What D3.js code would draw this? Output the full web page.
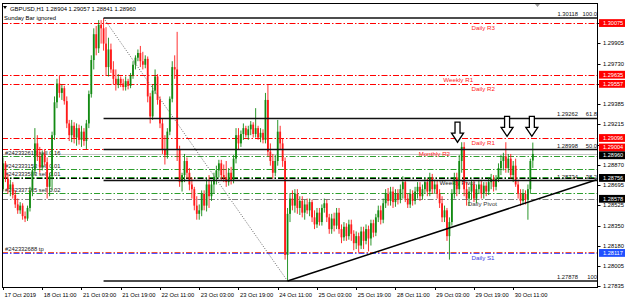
<!DOCTYPE html>
<html>
<head>
<meta charset="utf-8">
<script src="https://cdn.jsdelivr.net/npm/d3@7"></script>
<style>
  body { margin: 0; background: #fff; }
  svg { display: block; font-family: "Liberation Sans", Arial, sans-serif; }
</style>
</head>
<body>
<svg id="chart" width="625" height="304"></svg>
<script>
// GBPUSD H1 - pivots, orders, fibo

const headerText = 'GBPUSD,H1  1.28904 1.29057 1.28841 1.28960';
const subText = 'Sunday Bar ignored';

const timeLabels = [
  '17 Oct 2019', '18 Oct 11:00', '21 Oct 03:00', '21 Oct 19:00', '22 Oct 11:00',
  '23 Oct 03:00', '23 Oct 19:00', '24 Oct 11:00', '25 Oct 03:00', '25 Oct 19:00',
  '28 Oct 11:00', '29 Oct 03:00', '29 Oct 19:00', '30 Oct 11:00'
];
const barsPerLabel = 16;

const priceTicks = [
  1.27835, 1.28005, 1.28180, 1.28350, 1.28525, 1.28695, 1.28870,
  1.29040, 1.29215, 1.29385, 1.29560, 1.29730, 1.29905, 1.30075
];

// [open, high, low, close]
const bars = [
  [1.2866,1.2893,1.2864,1.2888],[1.2888,1.2890,1.2872,1.2875],[1.2875,1.2879,1.2862,1.2866],[1.2866,1.2874,1.2860,1.2870],
  [1.2870,1.2872,1.2858,1.2861],[1.2861,1.2865,1.2850,1.2853],[1.2853,1.2858,1.2845,1.2848],[1.2848,1.2855,1.2845,1.2852],
  [1.2852,1.2854,1.2840,1.2843],[1.2843,1.2847,1.2838,1.2841],[1.2841,1.2852,1.2839,1.2850],[1.2850,1.2868,1.2847,1.2865],
  [1.2865,1.2885,1.2860,1.2882],[1.2882,1.2918,1.2878,1.2905],[1.2905,1.2912,1.2890,1.2894],[1.2894,1.2902,1.2880,1.2885],
  [1.2885,1.2899,1.2882,1.2896],[1.2896,1.2900,1.2886,1.2889],[1.2889,1.2893,1.2858,1.2868],[1.2868,1.2880,1.2860,1.2877],
  [1.2877,1.2915,1.2865,1.2912],[1.2912,1.2945,1.2908,1.2940],[1.2940,1.2960,1.2935,1.2956],[1.2956,1.2963,1.2944,1.2948],
  [1.2948,1.2955,1.2942,1.2952],[1.2952,1.2954,1.2938,1.2941],[1.2941,1.2945,1.2918,1.2922],[1.2922,1.2925,1.2907,1.2912],
  [1.2912,1.2925,1.2906,1.2920],[1.2920,1.2923,1.2905,1.2910],[1.2910,1.2922,1.2903,1.2918],[1.2918,1.2921,1.2904,1.2908],
  [1.2908,1.2920,1.2902,1.2915],[1.2915,1.2918,1.2903,1.2907],[1.2907,1.2925,1.2900,1.2922],[1.2922,1.2950,1.2918,1.2947],
  [1.2947,1.2980,1.2944,1.2976],[1.2976,1.3003,1.2968,1.2998],[1.2998,1.3005,1.2980,1.2986],[1.2986,1.3010,1.2982,1.3006],
  [1.3006,1.3010,1.2990,1.3003],[1.3003,1.30118,1.2984,1.2990],[1.2990,1.3004,1.2963,1.2970],[1.2970,1.2995,1.2962,1.2985],
  [1.2985,1.2990,1.2965,1.2968],[1.2968,1.2975,1.2955,1.2960],[1.2960,1.2968,1.2950,1.2955],[1.2955,1.2964,1.2952,1.2960],
  [1.2960,1.2962,1.2953,1.2956],[1.2956,1.2960,1.2950,1.2953],[1.2953,1.2962,1.2950,1.2958],[1.2958,1.2960,1.2951,1.2954],
  [1.2954,1.2965,1.2952,1.2963],[1.2963,1.2975,1.2960,1.2972],[1.2972,1.2980,1.2968,1.2978],[1.2978,1.2985,1.2975,1.2982],
  [1.2982,1.2988,1.2970,1.2975],[1.2975,1.2983,1.2968,1.2972],[1.2972,1.2980,1.2969,1.2977],[1.2977,1.2979,1.2940,1.2945],
  [1.2945,1.2948,1.2922,1.2928],[1.2928,1.2955,1.2925,1.2950],[1.2950,1.2968,1.2947,1.2962],[1.2962,1.2964,1.2938,1.2942],
  [1.2942,1.2945,1.2918,1.2922],[1.2922,1.2926,1.2896,1.2900],[1.2900,1.2912,1.2887,1.2895],[1.2895,1.2918,1.2892,1.2915],
  [1.2915,1.2945,1.2912,1.2943],[1.2943,1.2975,1.2940,1.2970],[1.2970,1.2980,1.2960,1.2968],[1.2968,1.3000,1.2890,1.2900],
  [1.2900,1.2903,1.2868,1.2872],[1.2872,1.2880,1.2864,1.2878],[1.2878,1.2896,1.2872,1.2890],[1.2890,1.2893,1.2875,1.2880],
  [1.2880,1.2884,1.2865,1.2870],[1.2870,1.2876,1.2858,1.2866],[1.2866,1.2868,1.2848,1.2852],[1.2852,1.2860,1.2840,1.2845],
  [1.2845,1.2853,1.2840,1.2848],[1.2848,1.2865,1.2843,1.2862],[1.2862,1.2865,1.2848,1.2852],[1.2852,1.2875,1.2847,1.2870],
  [1.2870,1.2878,1.2850,1.2860],[1.2860,1.2873,1.2856,1.2870],[1.2870,1.2880,1.2862,1.2876],[1.2876,1.2886,1.2870,1.2882],
  [1.2882,1.2891,1.2876,1.2888],[1.2888,1.2891,1.2874,1.2878],[1.2878,1.2887,1.2872,1.2876],[1.2876,1.2890,1.2868,1.2872],
  [1.2872,1.2884,1.2869,1.2880],[1.2880,1.2885,1.2870,1.2874],[1.2874,1.2895,1.2871,1.2892],[1.2892,1.2918,1.2888,1.2912],
  [1.2912,1.2918,1.2900,1.2905],[1.2905,1.2916,1.2902,1.2913],[1.2913,1.2922,1.2908,1.2918],[1.2918,1.2920,1.2910,1.2912],
  [1.2912,1.2920,1.2908,1.2917],[1.2917,1.2924,1.2912,1.2921],[1.2921,1.2923,1.2910,1.2913],[1.2913,1.2935,1.2910,1.2918],
  [1.2918,1.2920,1.2908,1.2910],[1.2910,1.2918,1.2906,1.2914],[1.2914,1.2917,1.2905,1.2908],[1.2908,1.2948,1.2905,1.2942],
  [1.2942,1.2955,1.2894,1.2898],[1.2898,1.2905,1.2886,1.2890],[1.2890,1.2896,1.2875,1.2880],[1.2880,1.2895,1.2877,1.2890],
  [1.2890,1.2925,1.2886,1.2915],[1.2915,1.2920,1.2900,1.2905],[1.2905,1.2909,1.2885,1.2890],[1.2890,1.2893,1.2806,1.2810],
  [1.2810,1.2850,1.27878,1.2845],[1.2845,1.2862,1.2838,1.2858],[1.2858,1.2865,1.2848,1.2852],[1.2852,1.2866,1.2846,1.2862],
  [1.2862,1.2866,1.2845,1.2850],[1.2850,1.2860,1.2844,1.2856],[1.2856,1.2860,1.2842,1.2846],[1.2846,1.2857,1.2840,1.2853],
  [1.2853,1.2858,1.2845,1.2848],[1.2848,1.2858,1.2843,1.2855],[1.2855,1.2857,1.2838,1.2842],[1.2842,1.2848,1.2832,1.2836],
  [1.2836,1.2850,1.2833,1.2846],[1.2846,1.2850,1.2835,1.2838],[1.2838,1.2853,1.2835,1.2850],[1.2850,1.2858,1.2846,1.2854],
  [1.2854,1.2857,1.2838,1.2842],[1.2842,1.2845,1.2828,1.2832],[1.2832,1.2845,1.2828,1.2841],[1.2841,1.2846,1.2830,1.2835],
  [1.2835,1.2850,1.2832,1.2846],[1.2846,1.2850,1.2828,1.2832],[1.2832,1.2836,1.2820,1.2825],[1.2825,1.2838,1.2822,1.2834],
  [1.2834,1.2837,1.2822,1.2826],[1.2826,1.2840,1.2823,1.2836],[1.2836,1.2840,1.2822,1.2828],[1.2828,1.2831,1.2814,1.2820],
  [1.2820,1.2830,1.2815,1.2826],[1.2826,1.2829,1.2812,1.2818],[1.2818,1.2834,1.2815,1.2830],[1.2830,1.2834,1.2815,1.2822],
  [1.2822,1.2836,1.2819,1.2832],[1.2832,1.2835,1.2813,1.2824],[1.2824,1.2840,1.2818,1.2837],[1.2837,1.2840,1.2825,1.2829],
  [1.2829,1.2845,1.2826,1.2842],[1.2842,1.2852,1.2838,1.2848],[1.2848,1.2852,1.2836,1.2840],[1.2840,1.2858,1.2837,1.2854],
  [1.2854,1.2866,1.2850,1.2862],[1.2862,1.2867,1.2852,1.2856],[1.2856,1.2868,1.2852,1.2864],[1.2864,1.2868,1.2850,1.2855],
  [1.2855,1.2866,1.2851,1.2862],[1.2862,1.2866,1.2853,1.2857],[1.2857,1.2870,1.2854,1.2866],[1.2866,1.2877,1.2858,1.2872],
  [1.2872,1.2874,1.2855,1.2858],[1.2858,1.2862,1.2850,1.2853],[1.2853,1.2866,1.2850,1.2862],[1.2862,1.2865,1.2852,1.2856],
  [1.2856,1.2868,1.2853,1.2864],[1.2864,1.2872,1.2858,1.2868],[1.2868,1.2872,1.2856,1.2860],[1.2860,1.2870,1.2857,1.2866],
  [1.2866,1.2876,1.2862,1.2872],[1.2872,1.2875,1.2860,1.2864],[1.2864,1.2880,1.2860,1.2876],[1.2876,1.2879,1.2862,1.2866],
  [1.2866,1.2874,1.2862,1.2870],[1.2870,1.2873,1.2858,1.2862],[1.2862,1.2866,1.2850,1.2854],[1.2854,1.2860,1.2838,1.2842],
  [1.2842,1.2852,1.2838,1.2848],[1.2848,1.2850,1.2822,1.2826],[1.2826,1.2842,1.2806,1.2838],[1.2838,1.2866,1.2835,1.2862],
  [1.2862,1.2880,1.2858,1.2876],[1.2876,1.2880,1.2860,1.2866],[1.2866,1.2895,1.2862,1.2890],[1.2890,1.2906,1.2880,1.2902],
  [1.2902,1.2906,1.2860,1.2866],[1.2866,1.2872,1.2852,1.2858],[1.2858,1.2868,1.2852,1.2864],[1.2864,1.2874,1.2857,1.2870],
  [1.2870,1.2873,1.2855,1.2858],[1.2858,1.2870,1.2854,1.2866],[1.2866,1.2874,1.2862,1.2870],[1.2870,1.2874,1.2858,1.2862],
  [1.2862,1.2872,1.2858,1.2869],[1.2869,1.2872,1.2860,1.2864],[1.2864,1.2876,1.2861,1.2872],[1.2872,1.2879,1.2866,1.2875],
  [1.2875,1.2878,1.2864,1.2868],[1.2868,1.2878,1.2865,1.2875],[1.2875,1.2888,1.2872,1.2884],[1.2884,1.2895,1.2878,1.2890],
  [1.2890,1.2897,1.2882,1.2894],[1.2894,1.2906,1.2880,1.2884],[1.2884,1.2896,1.2880,1.2892],[1.2892,1.2896,1.2875,1.2878],
  [1.2878,1.2890,1.2872,1.2886],[1.2886,1.2892,1.2868,1.2870],[1.2870,1.2874,1.2858,1.2862],[1.2862,1.2866,1.2852,1.2856],
  [1.2856,1.2866,1.2853,1.2862],[1.2862,1.2865,1.2853,1.2857],[1.2857,1.2870,1.2840,1.2866],[1.2866,1.2892,1.2862,1.2890],
  [1.28904,1.29057,1.28841,1.28960]
];

const pivots = [
  { name: 'Daily R3',     price: 1.30075, color: '#ff0000', text: '#ff2020', labelBar: 191 },
  { name: 'Weekly R1',    price: 1.29635, color: '#ff0000', text: '#ff2020', labelBar: 179.5 },
  { name: 'Daily R2',     price: 1.29557, color: '#ff0000', text: '#ff2020', labelBar: 191 },
  { name: 'Daily R1',     price: 1.29096, color: '#ff0000', text: '#ff2020', labelBar: 191 },
  { name: 'Monthly R2',   price: 1.29004, color: '#ff0000', text: '#ff2020', labelBar: 169.5 },
  { name: 'Weekly Pivot', price: 1.28756, color: '#000000', text: '#1a1a1a', labelBar: 178 },
  { name: 'Daily Pivot',  price: 1.28578, color: '#808080', text: '#3a3a3a', labelBar: 189.5 },
  { name: 'Daily S1',     price: 1.28117, color: '#5050ff', text: '#3a3ae0', labelBar: 191 }
];

const orders = [
  { label: '#242332615 sell 0.16', price: 1.28943, color: '#2e9e2e' },
  { label: '#242333153 sell 0.01', price: 1.28832, color: '#2e9e2e' },
  { label: '#242333583 sell 0.01', price: 1.28768, color: '#2e9e2e' },
  { label: '#242337765 sell 0.02', price: 1.28631, color: '#2e9e2e' },
  { label: '#242332688 tp',        price: 1.28129, color: '#f05535' }
];

const bidPrice = 1.28960;

const fiboHigh = { bar: 41, price: 1.30118 };
const fiboLow = { bar: 116, price: 1.27878 };
const fiboLevels = [100, 61.8, 50, 38.2, 0];
const fiboTexts = ['100.0', '61.8', '50.0', '38.2', '100'];

const trendLine = [[116, 1.27878], [242, 1.28740]];

// [bar, price of tip]
const arrows = [[185.3, 1.2906], [205.5, 1.2911], [215.6, 1.2911]];

const priceTags = [
  { price: 1.30075, bg: '#ff0000' },
  { price: 1.29635, bg: '#ff0000' },
  { price: 1.29557, bg: '#ff0000' },
  { price: 1.29096, bg: '#ff0000' },
  { price: 1.29004, bg: '#ff0000' },
  { price: 1.28960, bg: '#000000' },
  { price: 1.28756, bg: '#000000' },
  { price: 1.28578, bg: '#000000' },
  { price: 1.28117, bg: '#2050ff' }
];

// ---- layout
const plot = { left: 2, right: 597.5, top: 3, bottom: 287 };
const svg = d3.select('#chart');
const fmt = d3.format('.5f');

const x = d3.scaleLinear().domain([0, 242]).range([3, 596.6]);
const y = d3.scaleLinear().domain([fiboLow.price, fiboHigh.price]).range([281, 18]);

svg.append('defs').append('clipPath').attr('id', 'plot-clip')
  .append('rect')
  .attr('x', plot.left).attr('y', plot.top)
  .attr('width', plot.right - plot.left).attr('height', plot.bottom - plot.top);

const g = svg.append('g').attr('clip-path', 'url(#plot-clip)');

// bid line
g.append('line')
  .attr('x1', plot.left).attr('x2', plot.right)
  .attr('y1', y(bidPrice) + 0.5).attr('y2', y(bidPrice) + 0.5)
  .attr('stroke', '#c4c4c4').attr('stroke-width', 1);

// pivot lines
g.append('g').selectAll('line')
  .data(pivots)
  .join('line')
  .attr('x1', plot.left).attr('x2', plot.right)
  .attr('y1', d => Math.round(y(d.price)) + 0.5)
  .attr('y2', d => Math.round(y(d.price)) + 0.5)
  .attr('stroke', d => d.color)
  .attr('stroke-width', 1)
  .attr('stroke-dasharray', '6,2,1.5,2');

g.append('g').selectAll('text')
  .data(pivots)
  .join('text')
  .attr('x', d => x(d.labelBar))
  .attr('y', d => y(d.price) + 6.8)
  .attr('fill', d => d.text)
  .attr('font-size', 6.2)
  .text(d => d.name);

// order lines
g.append('g').selectAll('line')
  .data(orders)
  .join('line')
  .attr('x1', plot.left).attr('x2', plot.right)
  .attr('y1', d => Math.round(y(d.price)) + 0.5)
  .attr('y2', d => Math.round(y(d.price)) + 0.5)
  .attr('stroke', d => d.color)
  .attr('stroke-width', 1)
  .attr('stroke-dasharray', '6,2,1.5,2');

g.append('g').selectAll('text')
  .data(orders)
  .join('text')
  .attr('x', 5)
  .attr('y', d => y(d.price) - 1)
  .attr('fill', '#202020')
  .attr('font-size', 5.8)
  .text(d => d.label);

// candles
const candle = g.append('g').selectAll('g')
  .data(bars)
  .join('g')
  .attr('stroke', d => d[3] >= d[0] ? '#138a13' : '#ff1a1a')
  .attr('fill', d => d[3] >= d[0] ? '#138a13' : '#ff1a1a');

candle.append('line')
  .attr('x1', (d, i) => x(i)).attr('x2', (d, i) => x(i))
  .attr('y1', d => y(d[1])).attr('y2', d => y(d[2]))
  .attr('stroke-width', 0.9);

candle.append('rect')
  .attr('x', (d, i) => x(i) - 0.9)
  .attr('width', 1.8)
  .attr('y', d => y(Math.max(d[0], d[3])))
  .attr('height', d => Math.max(0.8, Math.abs(y(d[0]) - y(d[3]))))
  .attr('stroke', 'none');

// fibonacci
const fiboRange = fiboHigh.price - fiboLow.price;
const fibo = fiboLevels.map((lv, i) => ({
  price: fiboLow.price + fiboRange * lv / 100,
  text: fiboTexts[i]
}));

g.append('line')
  .attr('x1', x(fiboHigh.bar)).attr('y1', y(fiboHigh.price))
  .attr('x2', x(fiboLow.bar)).attr('y2', y(fiboLow.price))
  .attr('stroke', '#555').attr('stroke-width', 0.9)
  .attr('stroke-dasharray', '1,1.6');

g.append('g').selectAll('line')
  .data(fibo)
  .join('line')
  .attr('x1', x(fiboHigh.bar)).attr('x2', plot.right)
  .attr('y1', d => y(d.price)).attr('y2', d => y(d.price))
  .attr('stroke', '#111').attr('stroke-width', 1.4);

const fiboText = g.append('g').attr('font-size', 5.8).attr('fill', '#111');
fiboText.selectAll('text.p')
  .data(fibo)
  .join('text')
  .attr('class', 'p')
  .attr('x', 578).attr('y', d => y(d.price) - 2)
  .attr('text-anchor', 'end')
  .text(d => fmt(d.price));
fiboText.selectAll('text.l')
  .data(fibo)
  .join('text')
  .attr('class', 'l')
  .attr('x', 597).attr('y', d => y(d.price) - 2)
  .attr('text-anchor', 'end')
  .text(d => d.text);

// trend line
g.append('line')
  .attr('x1', x(trendLine[0][0])).attr('y1', y(trendLine[0][1]))
  .attr('x2', x(trendLine[1][0])).attr('y2', y(trendLine[1][1]))
  .attr('stroke', '#000').attr('stroke-width', 1.5);

// arrows
g.append('g').selectAll('path')
  .data(arrows)
  .join('path')
  .attr('d', d => {
    const cx = x(d[0]), ty = y(d[1]);
    return `M${cx - 2.5},${ty - 20} L${cx + 2.5},${ty - 20} L${cx + 2.5},${ty - 9} ` +
      `L${cx + 6},${ty - 9} L${cx},${ty} L${cx - 6},${ty - 9} L${cx - 2.5},${ty - 9} Z`;
  })
  .attr('fill', '#fff')
  .attr('stroke', '#000')
  .attr('stroke-width', 1.3);

// frame
svg.append('rect')
  .attr('x', plot.left + 0.5).attr('y', plot.top + 0.5)
  .attr('width', plot.right - plot.left - 0.5).attr('height', plot.bottom - plot.top)
  .attr('fill', 'none').attr('stroke', '#000').attr('stroke-width', 1);

// header
svg.append('path').attr('d', 'M3,6 L7,6 L5,9 Z').attr('fill', '#000');
svg.append('text').attr('x', 10).attr('y', 10.5).attr('font-size', 5.9).attr('fill', '#000').text(headerText);
svg.append('text').attr('x', 4).attr('y', 19.5).attr('font-size', 5.9).attr('fill', '#000').text(subText);
svg.append('path').attr('d', 'M535,4 L540,4 L537.5,7 Z').attr('fill', '#999');

// price axis
const axisG = svg.append('g').attr('font-size', 5.8);
axisG.selectAll('line')
  .data(priceTicks)
  .join('line')
  .attr('x1', plot.right).attr('x2', plot.right + 3)
  .attr('y1', d => Math.round(y(d)) + 0.5).attr('y2', d => Math.round(y(d)) + 0.5)
  .attr('stroke', '#000');

// hide plain tick labels that sit right under a coloured tag
const tagH = 7.8;
const tickTextData = priceTicks.filter(t => !priceTags.some(p => Math.abs(y(p.price) - y(t)) < 4.5));
axisG.selectAll('text')
  .data(tickTextData)
  .join('text')
  .attr('x', 603).attr('y', d => y(d) + 2)
  .attr('fill', '#000')
  .text(d => fmt(d));

// spread tags that would collide
const tagPos = priceTags.map(d => ({ ...d, cy: y(d.price) }))
  .sort((a, b) => a.cy - b.cy);
for (let i = 1; i < tagPos.length; i++) {
  const gap = tagPos[i].cy - tagPos[i - 1].cy;
  if (gap < tagH) {
    const push = (tagH - gap) / 2;
    tagPos[i - 1].cy -= push;
    tagPos[i].cy += push;
  }
}

const tag = svg.append('g').selectAll('g')
  .data(tagPos)
  .join('g');
tag.append('rect')
  .attr('x', 599).attr('width', 26)
  .attr('y', d => d.cy - tagH / 2).attr('height', tagH)
  .attr('fill', d => d.bg);
tag.append('text')
  .attr('x', 603).attr('y', d => d.cy + 2)
  .attr('font-size', 5.6).attr('fill', '#fff')
  .text(d => fmt(d.price));

// time axis
const timeG = svg.append('g').attr('font-size', 5.8);
timeG.selectAll('line')
  .data(timeLabels)
  .join('line')
  .attr('x1', (d, i) => Math.round(x(i * barsPerLabel)) + 0.5)
  .attr('x2', (d, i) => Math.round(x(i * barsPerLabel)) + 0.5)
  .attr('y1', plot.bottom).attr('y2', plot.bottom + 3)
  .attr('stroke', '#000');
timeG.selectAll('text')
  .data(timeLabels)
  .join('text')
  .attr('x', (d, i) => x(i * barsPerLabel) + 1.5)
  .attr('y', 297)
  .attr('fill', '#000')
  .text(d => d);
</script>
</body>
</html>
